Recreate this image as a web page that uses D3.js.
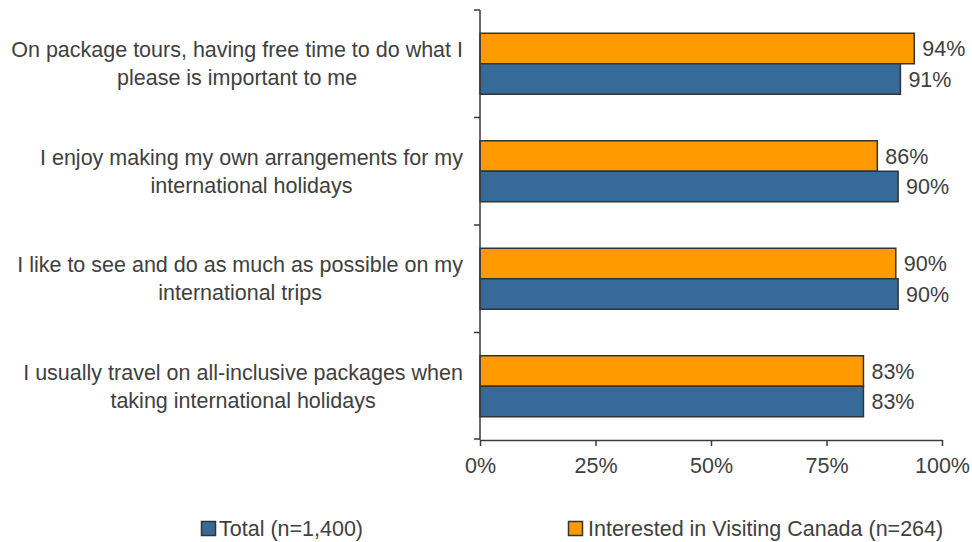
<!DOCTYPE html>
<html>
<head>
<meta charset="utf-8">
<script src="https://cdn.jsdelivr.net/npm/d3@7"></script>
<style>
  body { margin: 0; background: #fff; }
  svg { display: block; font-family: "Liberation Sans", Arial, sans-serif; }
</style>
</head>
<body>
<svg id="chart" width="972" height="542"></svg>
<script>
const categories = [
  ["On package tours, having free time to do what I", "please is important to me"],
  ["I enjoy making my own arrangements for my", "international holidays"],
  ["I like to see and do as much as possible on my", "international trips"],
  ["I usually travel on all-inclusive packages when", "taking international holidays"]
];
const seriesNames = ["Interested in Visiting Canada (n=264)", "Total (n=1,400)"];
const interestedValues = [94, 86, 90, 83];
const totalValues = [91, 90.5, 90.5, 83];
const valueLabelsInterested = ["94%", "86%", "90%", "83%"];
const valueLabelsTotal = ["91%", "90%", "90%", "83%"];
const xTicks = [0, 25, 50, 75, 100];
const colors = { "Total (n=1,400)": "#366A99", "Interested in Visiting Canada (n=264)": "#FF9A00" };
const legendOrder = ["Total (n=1,400)", "Interested in Visiting Canada (n=264)"];

const svg = d3.select("#chart");
const textColor = "#404040";
const axisColor = "#3a3a3a";
const fontSize = 21.5;

const x = d3.scaleLinear().domain([0, 100]).range([480, 942]);
const catIdx = d3.range(categories.length);
const y = d3.scaleBand().domain(catIdx).range([10, 440]).paddingInner(0.4326).paddingOuter(0.2163);
const ySub = d3.scaleBand().domain(seriesNames).range([0, y.bandwidth()]);

const data = catIdx.map(i => ({
  i,
  vals: [
    { s: seriesNames[0], v: interestedValues[i], label: valueLabelsInterested[i] },
    { s: seriesNames[1], v: totalValues[i], label: valueLabelsTotal[i] }
  ]
}));

// bars
const g = svg.append("g");
const groups = g.selectAll("g.cat").data(data).join("g")
  .attr("transform", d => `translate(0,${y(d.i)})`);
groups.selectAll("rect").data(d => d.vals).join("rect")
  .attr("x", x(0))
  .attr("y", d => ySub(d.s))
  .attr("width", d => x(d.v) - x(0))
  .attr("height", ySub.bandwidth())
  .attr("fill", d => colors[d.s])
  .attr("stroke", "#333")
  .attr("stroke-width", 1.5);
groups.selectAll("text.val").data(d => d.vals).join("text")
  .attr("class", "val")
  .attr("x", d => x(d.v) + 8)
  .attr("y", d => ySub(d.s) + ySub.bandwidth() / 2)
  .attr("dy", "0.36em")
  .attr("font-size", fontSize)
  .attr("fill", textColor)
  .text(d => d.label);

// x axis
const xAxis = svg.append("g")
  .attr("transform", "translate(0,440)")
  .call(d3.axisBottom(x).tickValues(xTicks).tickFormat(d => d + "%").tickSize(6).tickPadding(12).tickSizeOuter(0));
xAxis.select(".domain").attr("stroke", axisColor).attr("stroke-width", 1.5);
xAxis.selectAll(".tick line").attr("stroke", axisColor).attr("stroke-width", 1.5);
xAxis.selectAll(".tick text").attr("font-size", fontSize).attr("fill", textColor)
  .attr("font-family", "Liberation Sans, Arial, sans-serif");

// y axis line with boundary ticks
const yBounds = d3.range(categories.length + 1).map(k => 10 + k * y.step());
svg.append("line").attr("x1", 480).attr("x2", 480).attr("y1", 10).attr("y2", 440)
  .attr("stroke", axisColor).attr("stroke-width", 1.5);
svg.selectAll("line.ytick").data(yBounds).join("line")
  .attr("class", "ytick")
  .attr("x1", 474).attr("x2", 480)
  .attr("y1", d => Math.min(d, 439)).attr("y2", d => Math.min(d, 439))
  .attr("stroke", axisColor).attr("stroke-width", 1.5);

// category labels: centered lines, block right-aligned
const lineH = 28;
const labelRight = 463;
categories.forEach((lines, i) => {
  const cy = y(i) + y.bandwidth() / 2;
  const t = svg.append("text")
    .attr("font-size", fontSize)
    .attr("fill", textColor)
    .attr("text-anchor", "middle");
  const spans = lines.map((ln, k) => t.append("tspan")
    .attr("y", cy + (k - (lines.length - 1) / 2) * lineH)
    .attr("dy", "0.36em")
    .text(ln));
  const maxW = d3.max(spans, s => s.node().getComputedTextLength());
  spans.forEach(s => s.attr("x", labelRight - maxW / 2));
});

// legend
const legendX = { "Total (n=1,400)": 201.5, "Interested in Visiting Canada (n=264)": 568.5 };
const legendTextX = { "Total (n=1,400)": 219, "Interested in Visiting Canada (n=264)": 588 };
legendOrder.forEach(name => {
  const lx = legendX[name];
  svg.append("rect").attr("x", lx).attr("y", 521.5).attr("width", 14).attr("height", 14)
    .attr("fill", colors[name]).attr("stroke", "#333").attr("stroke-width", 1.5);
  svg.append("text").attr("x", legendTextX[name]).attr("y", 528.5).attr("dy", "0.36em")
    .attr("font-size", fontSize).attr("fill", textColor).text(name);
});
</script>
</body>
</html>
